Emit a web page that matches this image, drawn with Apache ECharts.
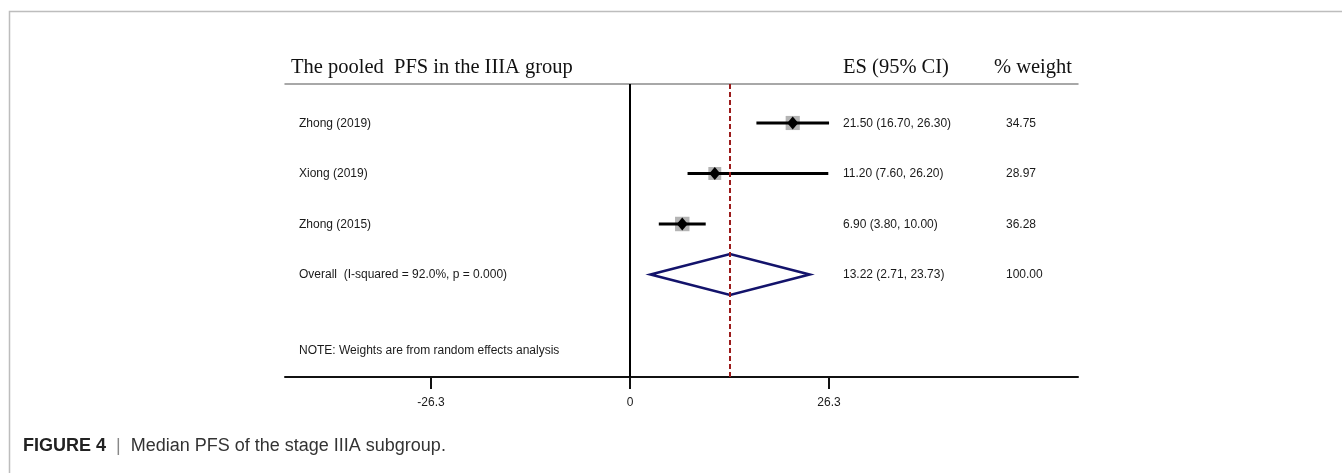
<!DOCTYPE html>
<html>
<head>
<meta charset="utf-8">
<script src="https://cdn.jsdelivr.net/npm/echarts@6/dist/echarts.min.js"></script>
<style>
html,body{margin:0;padding:0;background:#fff;}
#chart{width:1342px;height:473px;}
</style>
</head>
<body>
<div id="chart"></div>
<script>
// ---- data ----
const studies = ['Zhong (2019)', 'Xiong (2019)', 'Zhong (2015)'];
const es = [21.50, 11.20, 6.90];
const ciLow = [16.70, 7.60, 3.80];
const ciHigh = [26.30, 26.20, 10.00];
const weights = [34.75, 28.97, 36.28];
const overallLabel = 'Overall  (I-squared = 92.0%, p = 0.000)';
const overallES = 13.22;
const overallLow = 2.71;
const overallHigh = 23.73;
const overallWeight = 100.00;
const tickValues = [-26.3, 0, 26.3];
const headerTitle = 'The pooled  PFS in the IIIA group';
const headerES = 'ES (95% CI)';
const headerWeight = '% weight';
const noteText = 'NOTE: Weights are from random effects analysis';
const captionBold = 'FIGURE 4';
const captionText = 'Median PFS of the stage IIIA subgroup.';

// ---- layout ----
const X_MIN = -45.6, X_MAX = 59.2;
const NAME_X = 299, ES_X = 843, W_X = 1006;
const sans = '"Liberation Sans", Arial, sans-serif';
const serif = '"Liberation Serif", "Times New Roman", serif';

const studyData = studies.map((s, i) => [es[i], ciLow[i], ciHigh[i], weights[i], i + 1, s]);
const overallData = [[overallES, overallLow, overallHigh, overallWeight, studies.length + 1, overallLabel]];

function esText(v, l, h) {
  return v.toFixed(2) + ' (' + l.toFixed(2) + ', ' + h.toFixed(2) + ')';
}
function rowTexts(y, name, v, l, h, w) {
  const st = { fontFamily: sans, fontSize: 12, fill: '#1a1a1a', verticalAlign: 'middle', align: 'left' };
  return [
    { type: 'text', x: NAME_X, y: y + 0.5, style: Object.assign({ text: name }, st) },
    { type: 'text', x: ES_X, y: y + 0.5, style: Object.assign({ text: esText(v, l, h) }, st) },
    { type: 'text', x: W_X, y: y + 0.5, style: Object.assign({ text: w.toFixed(2) }, st) }
  ];
}

const chart = echarts.init(document.getElementById('chart'), null, { renderer: 'canvas' });
chart.setOption({
  animation: false,
  backgroundColor: '#fff',
  grid: { left: 285, right: 264, top: 84, bottom: 96 },
  xAxis: [
    {
      type: 'value', min: X_MIN, max: X_MAX, position: 'bottom',
      splitLine: { show: false },
      axisLine: { show: true, onZero: false, lineStyle: { color: '#111', width: 2 } },
      axisTick: { show: true, customValues: tickValues, length: 12, inside: false, lineStyle: { color: '#111', width: 2 } },
      axisLabel: { show: true, customValues: tickValues, margin: 20, fontFamily: sans, fontSize: 12, color: '#1a1a1a',
        formatter: v => (v === 0 ? '0' : String(v)) }
    },
    {
      type: 'value', min: X_MIN, max: X_MAX, position: 'top',
      splitLine: { show: false },
      axisLine: { show: true, onZero: false, lineStyle: { color: '#8c8c8c', width: 1.5 } },
      axisTick: { show: false }, axisLabel: { show: false }
    }
  ],
  yAxis: { type: 'value', inverse: true, min: 0.228, max: 6.03, show: false },
  series: [
    {
      type: 'custom', xAxisIndex: 0, clip: false, z: 3,
      data: studyData,
      renderItem: function (params, api) {
        const v = api.value(0), l = api.value(1), h = api.value(2), w = api.value(3), row = api.value(4);
        const c = api.coord([v, row]);
        const pl = api.coord([l, row]);
        const ph = api.coord([h, row]);
        const sq = 2.4 * Math.sqrt(w);
        const name = studyData[params.dataIndex][5];
        return {
          type: 'group',
          children: [
            { type: 'rect', shape: { x: c[0] - sq / 2, y: c[1] - sq / 2, width: sq, height: sq }, style: { fill: '#b4b4b4' } },
            { type: 'line', shape: { x1: pl[0], y1: pl[1], x2: ph[0], y2: ph[1] }, style: { stroke: '#000', lineWidth: 3 } },
            { type: 'polygon', shape: { points: [[c[0], c[1] - 6.5], [c[0] + 5.5, c[1]], [c[0], c[1] + 6.5], [c[0] - 5.5, c[1]]] }, style: { fill: '#000' } }
          ].concat(rowTexts(c[1], name, v, l, h, w))
        };
      }
    },
    {
      type: 'custom', xAxisIndex: 0, clip: false, z: 3,
      data: overallData,
      renderItem: function (params, api) {
        const v = api.value(0), l = api.value(1), h = api.value(2), w = api.value(3), row = api.value(4);
        const c = api.coord([v, row]);
        const pl = api.coord([l, row]);
        const ph = api.coord([h, row]);
        const hh = 20.5;
        return {
          type: 'group',
          children: [
            { type: 'polygon', shape: { points: [[pl[0], pl[1]], [c[0], c[1] - hh], [ph[0], ph[1]], [c[0], c[1] + hh]] },
              style: { fill: 'none', stroke: '#13136b', lineWidth: 2.6 } }
          ].concat(rowTexts(c[1], overallData[0][5], v, l, h, w))
        };
      },
      markLine: {
        silent: true, symbol: ['none', 'none'], label: { show: false },
        data: [
          { xAxis: 0, lineStyle: { color: '#000', width: 2, type: 'solid' } },
          { xAxis: overallES, lineStyle: { color: '#9b1b1b', width: 2, type: [5, 3] } }
        ]
      }
    },
    {
      type: 'custom', xAxisIndex: 0, clip: false, z: 3,
      data: [[0, studies.length + 2.5]],
      renderItem: function (params, api) {
        const c = api.coord([api.value(0), api.value(1)]);
        return { type: 'text', x: NAME_X, y: c[1], style: { text: noteText, fontFamily: sans, fontSize: 12, fill: '#1a1a1a', verticalAlign: 'middle', align: 'left' } };
      }
    }
  ],
  graphic: [
    { type: 'polyline', shape: { points: [[9.5, 473], [9.5, 11.5], [1342, 11.5]] }, style: { stroke: '#bdbdbd', lineWidth: 1.5, fill: 'none' } },
    { type: 'text', left: 291, top: 57, style: { text: headerTitle, fontFamily: serif, fontSize: 20.5, fill: '#111' } },
    { type: 'text', left: 843, top: 57, style: { text: headerES, fontFamily: serif, fontSize: 20.5, fill: '#111' } },
    { type: 'text', left: 994, top: 57, style: { text: headerWeight, fontFamily: serif, fontSize: 20.5, fill: '#111' } },
    { type: 'text', left: 23, top: 437, style: {
        text: '{b|' + captionBold + '}{s|  |  }{r|' + captionText + '}',
        rich: {
          b: { fontFamily: sans, fontSize: 18, fontWeight: 'bold', fill: '#222', color: '#222' },
          s: { fontFamily: sans, fontSize: 18, fill: '#888', color: '#888' },
          r: { fontFamily: sans, fontSize: 18, fill: '#333', color: '#333' }
        }
      } }
  ]
});
</script>
</body>
</html>
